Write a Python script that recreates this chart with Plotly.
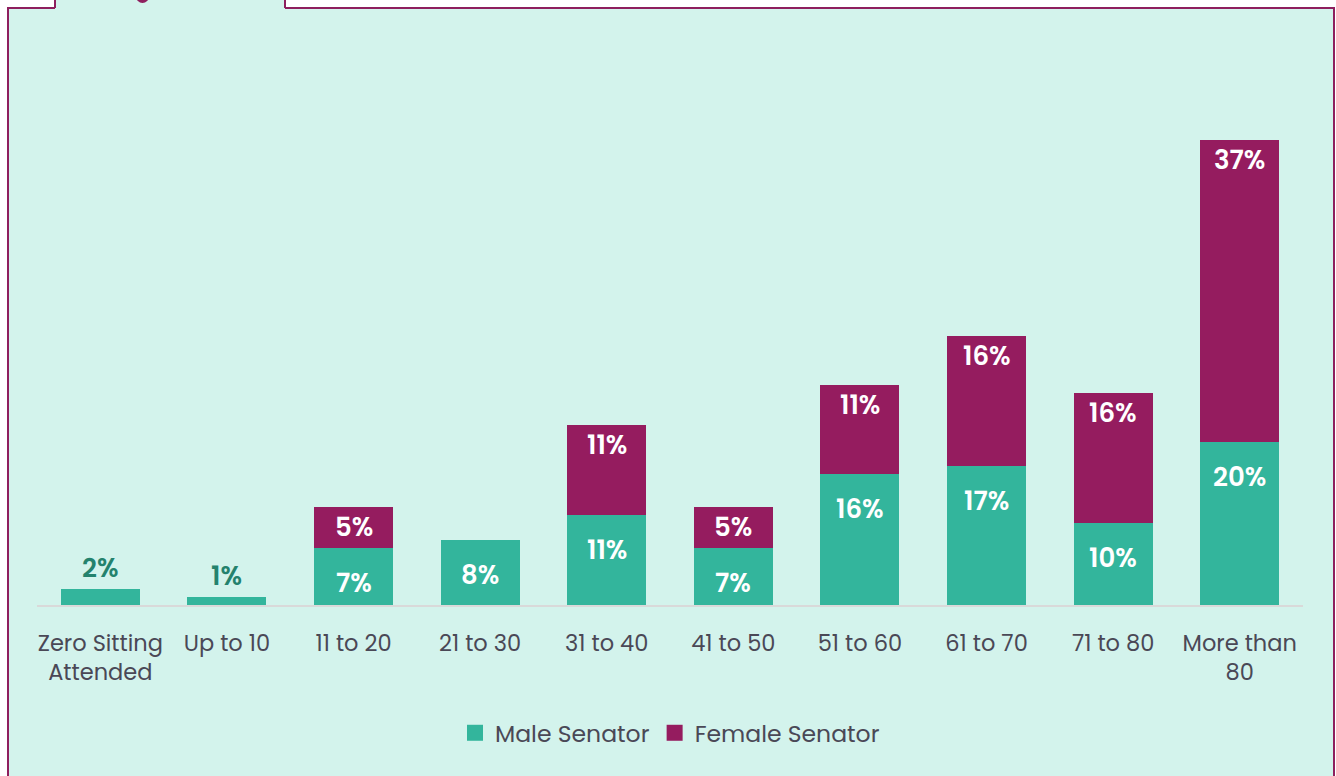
import plotly.graph_objects as go

categories = ["Zero Sitting<br>Attended", "Up to 10", "11 to 20", "21 to 30", "31 to 40",
              "41 to 50", "51 to 60", "61 to 70", "71 to 80", "More than<br>80"]
male_values = [2, 1, 7, 8, 11, 7, 16, 17, 10, 20]
female_values = [0, 0, 5, 0, 11, 5, 11, 16, 16, 37]
series_names = ["Male Senator", "Female Senator"]

MALE_COLOR = "#33B59C"
FEMALE_COLOR = "#951C5F"
BG = "#D3F3EC"
BORDER = "#8E1F5E"
TEXT = "#4A4856"
FONT = "Poppins, 'Open Sans', sans-serif"

W, H = 1336, 776
L, R, T, B = 37, 33, 103, 171
pw, ph = W - L - R, H - T - B


def px(x):
    return (x - L) / pw


def py(y):
    return (H - B - y) / ph


fig = go.Figure()
fig.add_trace(go.Bar(x=categories, y=male_values, name=series_names[0], showlegend=False,
                     marker=dict(color=MALE_COLOR, line=dict(width=0))))
fig.add_trace(go.Bar(x=categories, y=[v if v > 0 else None for v in female_values],
                     name=series_names[1], showlegend=False,
                     marker=dict(color=FEMALE_COLOR, line=dict(width=0))))
# legend entries with larger square swatches
for name, col in zip(series_names, [MALE_COLOR, FEMALE_COLOR]):
    fig.add_trace(go.Scatter(x=[categories[0]], y=[None], mode="markers", name=name,
                             marker=dict(symbol="square", size=17, color=col),
                             hoverinfo="skip"))

LABEL_FONT = dict(family=FONT, size=26, color="white", weight=600)
annotations = []
for c, m, f in zip(categories, male_values, female_values):
    if f == 0 and m < 5:
        annotations.append(dict(x=c, y=m, text=f"{m}%", showarrow=False, yshift=21,
                                font=dict(LABEL_FONT, color="#24826D")))
    else:
        annotations.append(dict(x=c, y=m, text=f"{m}%", showarrow=False, yshift=-35,
                                font=LABEL_FONT))
    if f > 0:
        annotations.append(dict(x=c, y=m + f, text=f"{f}%", showarrow=False, yshift=-20,
                                font=LABEL_FONT))

shapes = [
    # panel
    dict(type="rect", xref="paper", yref="paper", x0=px(8), x1=px(1334), y0=py(8), y1=py(800),
         fillcolor=BG, line=dict(color=BORDER, width=2), layer="below"),
    # tab
    dict(type="rect", xref="paper", yref="paper", x0=px(55), x1=px(285), y0=py(-5), y1=py(9),
         fillcolor=BG, line=dict(width=0), layer="below"),
    dict(type="line", xref="paper", yref="paper", x0=px(55), x1=px(55), y0=py(-5), y1=py(8),
         line=dict(color=BORDER, width=2), layer="below"),
    dict(type="line", xref="paper", yref="paper", x0=px(285), x1=px(285), y0=py(-5), y1=py(8),
         line=dict(color=BORDER, width=2), layer="below"),
    dict(type="circle", xref="paper", yref="paper", x0=px(136), x1=px(149), y0=py(-10), y1=py(3),
         fillcolor=BORDER, line=dict(width=0), layer="below"),
]

fig.update_layout(
    width=W, height=H,
    margin=dict(l=L, r=R, t=T, b=B, autoexpand=False),
    paper_bgcolor="white",
    plot_bgcolor=BG,
    barmode="stack",
    bargap=0.375,
    font=dict(family=FONT, color=TEXT, size=22),
    showlegend=True,
    legend=dict(orientation="h", x=0.5, xanchor="center", y=py(733), yanchor="middle",
                font=dict(family=FONT, size=23.5, color=TEXT), bgcolor="rgba(0,0,0,0)",
                traceorder="normal"),
    annotations=annotations,
    shapes=shapes,
)
fig.update_xaxes(showline=True, linecolor="#D9D9D9", linewidth=2, showgrid=False,
                 ticks="", tickfont=dict(family=FONT, size=22.5, color=TEXT),
                 ticklabelstandoff=17, fixedrange=True, automargin=False,
                 range=[-0.5, len(categories) - 0.5])
fig.update_yaxes(range=[0, 61.5], visible=False, showgrid=False, zeroline=False,
                 fixedrange=True, automargin=False)

fig.write_html("out.html")
